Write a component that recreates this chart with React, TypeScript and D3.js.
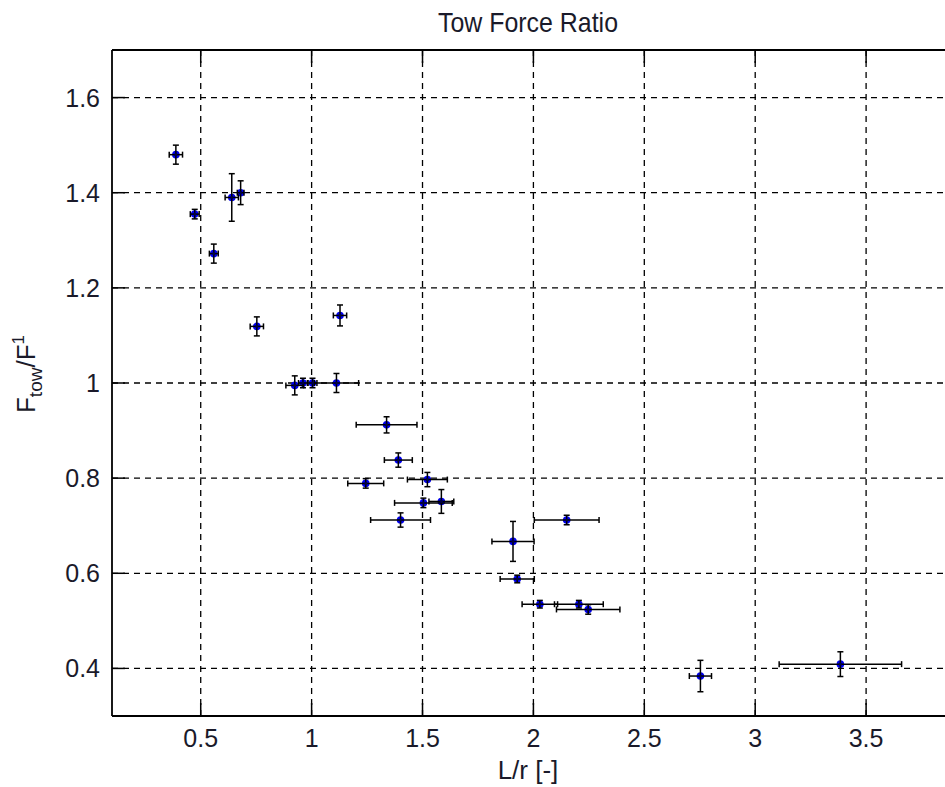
import React from "react";
import * as d3 from "d3";

const xVals = [0.388, 0.473, 0.559, 0.64, 0.68, 0.753, 1.128, 0.924, 0.961, 1.004, 1.112, 1.338, 1.391, 1.244, 1.522, 1.504, 1.585, 1.401, 2.15, 1.908, 1.927, 2.029, 2.205, 2.247, 2.753, 3.384];
const yVals = [1.48, 1.355, 1.272, 1.39, 1.4, 1.119, 1.142, 0.995, 1.0, 1.0, 1.0, 0.912, 0.838, 0.789, 0.797, 0.748, 0.751, 0.712, 0.712, 0.667, 0.588, 0.535, 0.535, 0.524, 0.384, 0.409];
const xErr = [0.03, 0.02, 0.02, 0.03, 0.015, 0.03, 0.03, 0.04, 0.02, 0.02, 0.1, 0.137, 0.063, 0.081, 0.09, 0.13, 0.056, 0.135, 0.146, 0.095, 0.077, 0.08, 0.11, 0.143, 0.05, 0.276];
const yErr = [0.02, 0.01, 0.02, 0.05, 0.025, 0.02, 0.022, 0.02, 0.01, 0.01, 0.02, 0.017, 0.015, 0.01, 0.015, 0.01, 0.025, 0.015, 0.01, 0.042, 0.008, 0.008, 0.008, 0.01, 0.033, 0.026];
const xTicks = [0.5, 1, 1.5, 2, 2.5, 3, 3.5];
const yTicks = [0.4, 0.6, 0.8, 1, 1.2, 1.4, 1.6];

const W = 945;
const H = 787;
const L = 112, R = 977, T = 50, B = 716;
const FONT = "'Liberation Sans', Arial, sans-serif";

export default function App() {
  const x = d3.scaleLinear().domain([0.1, 4.0]).range([L, R]);
  const y = d3.scaleLinear().domain([0.3, 1.7]).range([B, T]);
  const tl = 13;
  const cap = 3;
  return (
    <svg width={W} height={H} style={{ position: "absolute", left: 0, top: 0, background: "#fff" }}>
      <rect x={0} y={0} width={W} height={H} fill="#fff" />
      {xTicks.map((t) => (
        <line key={"gx" + t} x1={x(t)} x2={x(t)} y1={T} y2={B} stroke="#000" strokeWidth={1.3} strokeDasharray="6,5" />
      ))}
      {yTicks.map((t) => (
        <line key={"gy" + t} x1={L} x2={R} y1={y(t)} y2={y(t)} stroke="#000" strokeWidth={1.3} strokeDasharray="6,5" />
      ))}
      {xTicks.map((t) => (
        <g key={"tx" + t}>
          <line x1={x(t)} x2={x(t)} y1={B} y2={B - tl} stroke="#000" strokeWidth={1.5} />
          <line x1={x(t)} x2={x(t)} y1={T} y2={T + tl} stroke="#000" strokeWidth={1.5} />
          <text x={x(t)} y={747} textAnchor="middle" fontFamily={FONT} fontSize={25} fill="#1a1a2a">{t}</text>
        </g>
      ))}
      {yTicks.map((t) => (
        <g key={"ty" + t}>
          <line x1={L} x2={L + tl} y1={y(t)} y2={y(t)} stroke="#000" strokeWidth={1.5} />
          <text x={100} y={y(t) + 9} textAnchor="end" fontFamily={FONT} fontSize={25} fill="#1a1a2a">{t}</text>
        </g>
      ))}
      <line x1={L} x2={L} y1={T} y2={B} stroke="#000" strokeWidth={1.8} />
      <line x1={L} x2={R} y1={B} y2={B} stroke="#000" strokeWidth={1.8} />
      <line x1={L} x2={R} y1={T} y2={T} stroke="#000" strokeWidth={1.8} />
      {xVals.map((xv, i) => (
        <circle key={"p" + i} cx={x(xv)} cy={y(yVals[i])} r={3.8} fill="#0000ee" />
      ))}
      {xVals.map((xv, i) => {
        const cx = x(xv), cy = y(yVals[i]);
        const x0 = x(xv - xErr[i]), x1 = x(xv + xErr[i]);
        const y0 = y(yVals[i] - yErr[i]), y1 = y(yVals[i] + yErr[i]);
        return (
          <g key={"e" + i} stroke="#000" strokeWidth={1.5} fill="none">
            <line x1={cx} x2={cx} y1={y0} y2={y1} />
            <line x1={cx - cap} x2={cx + cap} y1={y0} y2={y0} />
            <line x1={cx - cap} x2={cx + cap} y1={y1} y2={y1} />
            <line x1={x0} x2={x1} y1={cy} y2={cy} />
            <line x1={x0} x2={x0} y1={cy - cap} y2={cy + cap} />
            <line x1={x1} x2={x1} y1={cy - cap} y2={cy + cap} />
          </g>
        );
      })}
      {xVals.map((xv, i) => (
        <circle key={"c" + i} cx={x(xv)} cy={y(yVals[i])} r={1.6} fill="#000040" />
      ))}
      <text x={528} y={32} textAnchor="middle" fontFamily={FONT} fontSize={28} fill="#1a1a2a" textLength={180} lengthAdjust="spacingAndGlyphs">Tow Force Ratio</text>
      <text x={528} y={779} textAnchor="middle" fontFamily={FONT} fontSize={26} fill="#1a1a2a">L/r [-]</text>
      <text transform="translate(35,374) rotate(-90)" textAnchor="middle" fontFamily={FONT} fontSize={26} fill="#1a1a2a">
        F<tspan fontSize={19} dy={7}>tow</tspan><tspan dy={-7}>/F</tspan><tspan fontSize={17} dy={-11}>1</tspan>
      </text>
    </svg>
  );
}
